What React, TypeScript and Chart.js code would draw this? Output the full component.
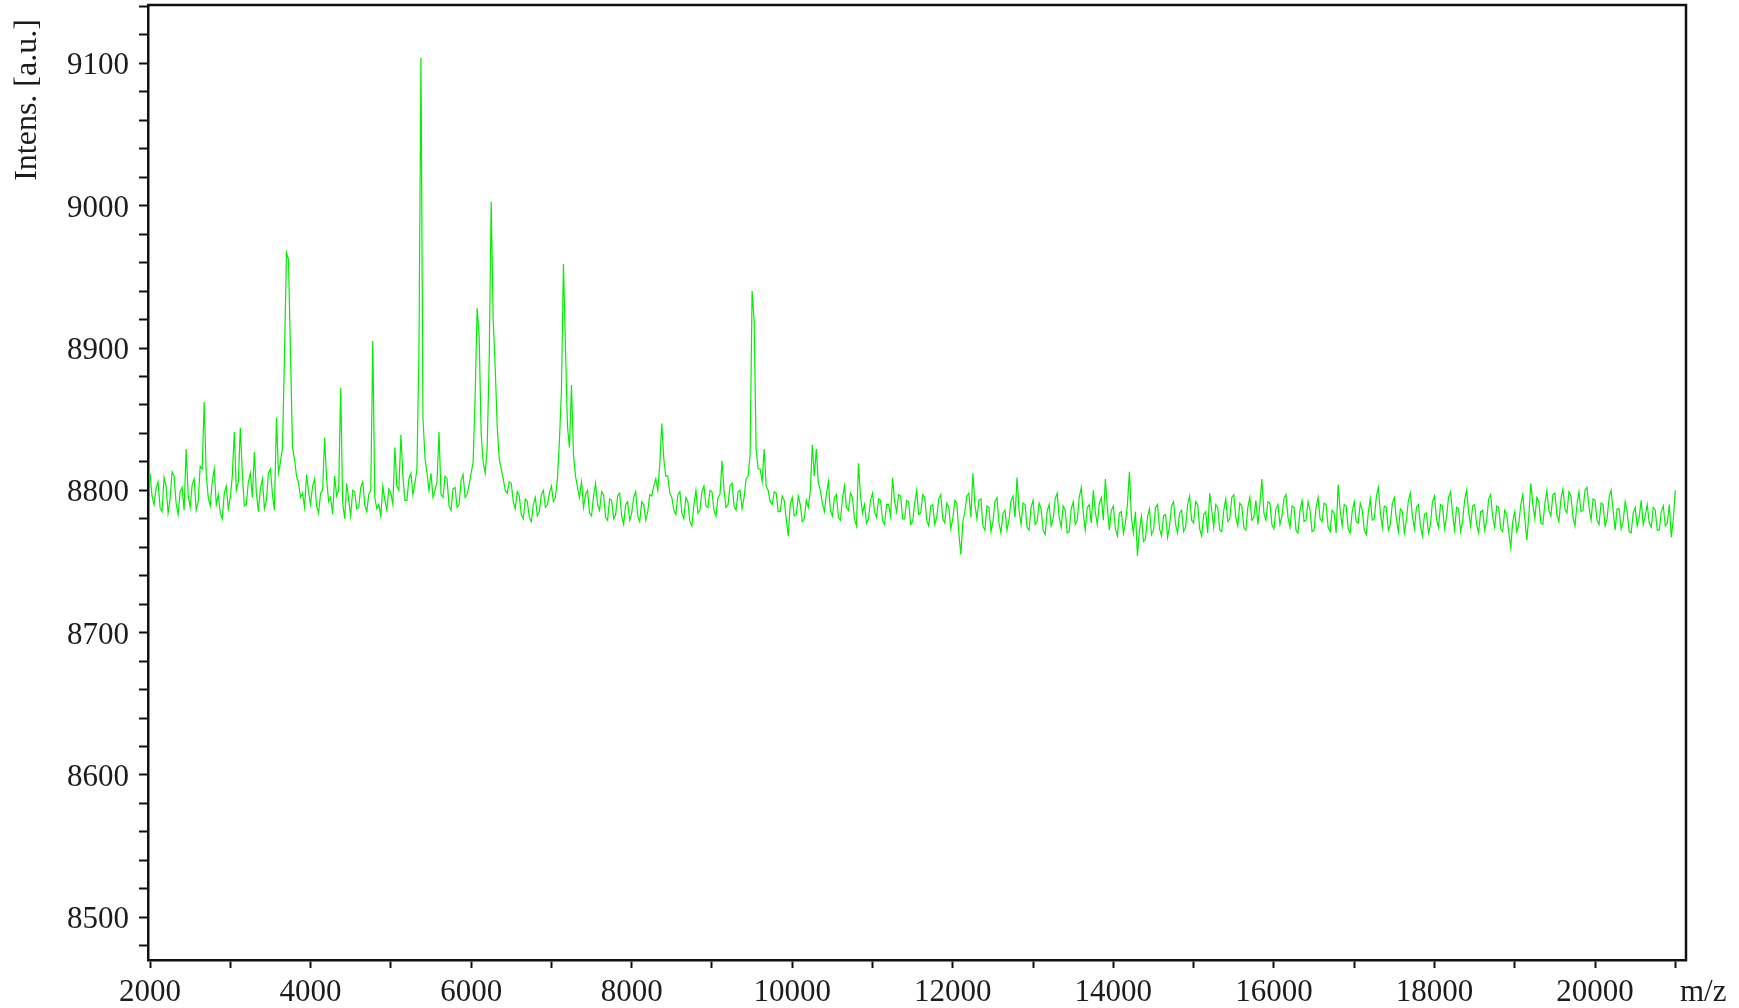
import React, { useEffect, useRef } from "react";
import { Chart, registerables } from "chart.js";

Chart.register(...registerables);

// Sampling grid of the spectrum (m/z), one value every MZ_STEP
const MZ_START = 2000;
const MZ_STEP = 25;

// Intensities, one per grid step (2000 .. 21000)
const INTENSITY: number[] = [
  // 2000 - 2975
  8812, 8796, 8790, 8801, 8806, 8788, 8785, 8809, 8803, 8784, 8794, 8813, 8810, 8791, 8783, 8799, 8802, 8786, 8829, 8797,
  8788, 8804, 8808, 8786, 8792, 8817, 8815, 8862, 8812, 8795, 8789, 8806, 8815, 8790, 8797, 8784, 8780, 8798, 8803, 8787,
  // 3000 - 3975
  8795, 8810, 8841, 8800, 8806, 8844, 8812, 8789, 8790, 8806, 8812, 8795, 8827, 8798, 8785, 8801, 8808, 8787, 8793, 8812,
  8815, 8797, 8786, 8851, 8812, 8820, 8830, 8895, 8967, 8962, 8896, 8830, 8822, 8810, 8805, 8795, 8798, 8788, 8811, 8799,
  // 4000 - 4975
  8790, 8803, 8808, 8789, 8784, 8798, 8800, 8837, 8808, 8792, 8795, 8783, 8810, 8796, 8800, 8872, 8791, 8780, 8805, 8793,
  8782, 8800, 8799, 8787, 8788, 8802, 8806, 8790, 8785, 8797, 8800, 8905, 8795, 8787, 8790, 8782, 8803, 8793, 8786, 8801,
  // 5000 - 5975
  8798, 8790, 8830, 8803, 8800, 8839, 8810, 8793, 8793, 8808, 8812, 8797, 8805, 8815, 8897, 9104, 8851, 8823, 8812, 8800,
  8812, 8795, 8800, 8806, 8841, 8797, 8795, 8810, 8808, 8789, 8786, 8801, 8802, 8788, 8790, 8807, 8811, 8795, 8797, 8804,
  // 6000 - 6975
  8812, 8820, 8866, 8928, 8908, 8840, 8820, 8812, 8830, 8891, 9003, 8920, 8886, 8845, 8822, 8815, 8808, 8800, 8798, 8806,
  8805, 8792, 8787, 8799, 8796, 8783, 8780, 8794, 8792, 8781, 8778, 8790, 8795, 8782, 8785, 8797, 8800, 8788, 8790, 8798,
  // 7000 - 7975
  8803, 8792, 8795, 8808, 8835, 8870, 8959, 8900, 8845, 8830, 8874, 8825, 8810, 8802, 8795, 8806, 8788, 8797, 8800, 8784,
  8782, 8796, 8805, 8790, 8786, 8799, 8797, 8781, 8779, 8794, 8793, 8780, 8783, 8796, 8798, 8782, 8776, 8790, 8792, 8779,
  // 8000 - 8975
  8784, 8795, 8799, 8782, 8778, 8792, 8790, 8779, 8785, 8797, 8796, 8803, 8808, 8800, 8818, 8847, 8822, 8810, 8810, 8798,
  8795, 8786, 8783, 8797, 8799, 8784, 8780, 8795, 8792, 8778, 8775, 8790, 8800, 8784, 8786, 8799, 8803, 8789, 8788, 8800,
  // 9000 - 9975
  8799, 8786, 8782, 8795, 8797, 8821, 8800, 8788, 8790, 8803, 8805, 8789, 8786, 8799, 8800, 8787, 8795, 8808, 8810, 8825,
  8940, 8919, 8829, 8815, 8815, 8806, 8829, 8803, 8800, 8792, 8790, 8799, 8798, 8785, 8785, 8796, 8793, 8780, 8768, 8790,
  // 10000 - 10975
  8795, 8782, 8783, 8796, 8790, 8778, 8780, 8793, 8788, 8800, 8832, 8810, 8829, 8805, 8800, 8791, 8785, 8797, 8806, 8786,
  8782, 8795, 8797, 8781, 8779, 8794, 8803, 8788, 8786, 8798, 8795, 8780, 8775, 8819, 8796, 8784, 8790, 8777, 8780, 8793,
  // 11000 - 11975
  8798, 8785, 8781, 8794, 8793, 8779, 8776, 8790, 8790, 8782, 8809, 8792, 8785, 8797, 8796, 8780, 8780, 8793, 8792, 8776,
  8778, 8791, 8800, 8783, 8784, 8797, 8795, 8779, 8775, 8789, 8790, 8776, 8781, 8794, 8797, 8780, 8777, 8791, 8788, 8773,
  // 12000 - 12975
  8780, 8793, 8791, 8770, 8755, 8778, 8785, 8796, 8798, 8781, 8812, 8790, 8780, 8793, 8794, 8775, 8772, 8789, 8788, 8771,
  8778, 8792, 8795, 8777, 8770, 8784, 8786, 8772, 8779, 8793, 8796, 8781, 8809, 8786, 8776, 8791, 8790, 8774, 8772, 8788,
  // 13000 - 13975
  8793, 8776, 8778, 8791, 8787, 8772, 8769, 8785, 8790, 8775, 8780, 8794, 8798, 8781, 8774, 8789, 8786, 8770, 8771, 8787,
  8792, 8776, 8779, 8795, 8802, 8784, 8772, 8788, 8790, 8777, 8800, 8785, 8776, 8791, 8795, 8779, 8808, 8788, 8772, 8786,
  // 14000 - 14975
  8789, 8773, 8768, 8784, 8785, 8770, 8777, 8790, 8813, 8781, 8770, 8785, 8754, 8772, 8782, 8764, 8766, 8781, 8787, 8769,
  8772, 8788, 8790, 8773, 8768, 8782, 8783, 8767, 8775, 8789, 8792, 8776, 8770, 8784, 8786, 8771, 8774, 8790, 8796, 8779,
  // 15000 - 15975
  8777, 8792, 8790, 8773, 8768, 8783, 8785, 8770, 8798, 8786, 8774, 8790, 8788, 8772, 8771, 8786, 8794, 8778, 8780, 8795,
  8797, 8781, 8775, 8791, 8789, 8774, 8772, 8788, 8795, 8779, 8781, 8793, 8776, 8790, 8808, 8784, 8779, 8792, 8791, 8776,
  // 16000 - 16975
  8773, 8787, 8790, 8776, 8782, 8794, 8797, 8781, 8774, 8789, 8788, 8772, 8770, 8786, 8793, 8778, 8779, 8792, 8786, 8771,
  8772, 8788, 8795, 8780, 8778, 8791, 8790, 8774, 8771, 8786, 8784, 8770, 8804, 8786, 8775, 8790, 8789, 8773, 8770, 8785,
  // 17000 - 17975
  8792, 8778, 8777, 8791, 8786, 8772, 8769, 8784, 8794, 8779, 8780, 8795, 8802, 8785, 8774, 8789, 8788, 8772, 8776, 8791,
  8795, 8780, 8771, 8787, 8785, 8770, 8779, 8793, 8798, 8782, 8773, 8788, 8790, 8775, 8768, 8783, 8784, 8770, 8776, 8792,
  // 18000 - 18975
  8796, 8780, 8774, 8790, 8789, 8773, 8781, 8795, 8799, 8784, 8772, 8788, 8787, 8771, 8778, 8793, 8800, 8785, 8775, 8789,
  8790, 8776, 8770, 8785, 8786, 8772, 8779, 8794, 8797, 8781, 8774, 8789, 8788, 8773, 8771, 8786, 8783, 8770, 8760, 8778,
  // 19000 - 19975
  8785, 8771, 8776, 8790, 8797, 8780, 8765, 8782, 8805, 8790, 8780, 8795, 8792, 8777, 8776, 8791, 8800, 8786, 8782, 8797,
  8798, 8783, 8778, 8794, 8801, 8787, 8784, 8799, 8796, 8781, 8775, 8790, 8799, 8785, 8786, 8800, 8802, 8788, 8779, 8794,
  // 20000 - 21000
  8793, 8779, 8776, 8791, 8790, 8775, 8780, 8795, 8800, 8786, 8772, 8787, 8787, 8773, 8778, 8792, 8785, 8771, 8770, 8784,
  8788, 8775, 8781, 8793, 8776, 8782, 8790, 8777, 8774, 8788, 8786, 8772, 8772, 8785, 8789, 8775, 8777, 8790, 8767, 8780,
  8800,
];

// Axis ranges and tick definitions
const X_MIN = 1975;
const X_MAX = 21133;
const X_TICKS = [
  2000, 3000, 4000, 5000, 6000, 7000, 8000, 9000, 10000, 11000,
  12000, 13000, 14000, 15000, 16000, 17000, 18000, 19000, 20000, 21000,
];
const X_LABEL_EVERY = 2000;
const Y_MIN = 8470;
const Y_MAX = 9141;
const Y_TICKS = [
  8480, 8500, 8520, 8540, 8560, 8580, 8600, 8620, 8640, 8660, 8680, 8700,
  8720, 8740, 8760, 8780, 8800, 8820, 8840, 8860, 8880, 8900, 8920, 8940,
  8960, 8980, 9000, 9020, 9040, 9060, 9080, 9100, 9120, 9140,
];
const Y_LABEL_EVERY = 100;
const X_TITLE = "m/z";
const Y_TITLE = "Intens. [a.u.]";

const SERIF = '"Liberation Serif", "Times New Roman", serif';
const LINE_COLOR = "#00f000";
const AXIS_COLOR = "#111111";
const TEXT_COLOR = "#1c1c1c";

const framePlugin = {
  id: "frameAndLabels",
  afterDraw(chart: any) {
    const { ctx, chartArea } = chart;
    const { left, right, top, bottom } = chartArea;
    const xs = chart.scales.x;
    const ys = chart.scales.y;
    ctx.save();
    ctx.strokeStyle = AXIS_COLOR;
    ctx.lineWidth = 2.5;
    ctx.beginPath();
    ctx.moveTo(left - 1, top);
    ctx.lineTo(right, top);
    ctx.lineTo(right, bottom + 1);
    ctx.stroke();

    ctx.fillStyle = TEXT_COLOR;
    ctx.font = `31px ${SERIF}`;

    // y tick labels
    ctx.textAlign = "right";
    ctx.textBaseline = "middle";
    for (const t of ys.ticks) {
      const v = Math.round(t.value);
      if (v % Y_LABEL_EVERY === 0) {
        ctx.fillText(String(v), left - 19, ys.getPixelForValue(v) + 3);
      }
    }

    // x tick labels
    ctx.textAlign = "center";
    ctx.textBaseline = "alphabetic";
    for (const t of xs.ticks) {
      const v = Math.round(t.value);
      if (v % X_LABEL_EVERY === 0) {
        ctx.fillText(String(v), xs.getPixelForValue(v), bottom + 41);
      }
    }

    // axis titles
    ctx.textAlign = "left";
    ctx.fillText(X_TITLE, right - 6, bottom + 41);

    ctx.font = `32px ${SERIF}`;
    ctx.translate(left - 112, top + 95);
    ctx.rotate(-Math.PI / 2);
    ctx.textAlign = "center";
    ctx.fillText(Y_TITLE, 0, 0);
    ctx.restore();
  },
};

export default function App() {
  const canvasRef = useRef<HTMLCanvasElement | null>(null);

  useEffect(() => {
    document.body.style.margin = "0";
    document.body.style.overflow = "hidden";
    const canvas = canvasRef.current;
    if (!canvas) return;

    const points = INTENSITY.map((y, i) => ({ x: MZ_START + i * MZ_STEP, y }));

    const chart = new Chart(canvas, {
      type: "line",
      data: {
        datasets: [
          {
            data: points,
            borderColor: LINE_COLOR,
            borderWidth: 1.2,
            pointRadius: 0,
            tension: 0,
            fill: false,
          },
        ],
      },
      options: {
        responsive: false,
        animation: false,
        devicePixelRatio: 1,
        layout: { padding: { left: 0, top: 5, right: 53, bottom: 0 } },
        plugins: {
          legend: { display: false },
          tooltip: { enabled: false },
          title: { display: false },
        },
        scales: {
          x: {
            type: "linear",
            min: X_MIN,
            max: X_MAX,
            border: { color: AXIS_COLOR, width: 2.5 },
            grid: {
              drawOnChartArea: false,
              drawTicks: true,
              tickLength: 8,
              tickWidth: 2,
              tickColor: AXIS_COLOR,
              color: AXIS_COLOR,
            },
            ticks: {
              display: false,
              autoSkip: false,
              maxRotation: 0,
              minRotation: 0,
            },
            afterBuildTicks: (scale: any) => {
              scale.ticks = X_TICKS.map((value) => ({ value }));
            },
            afterFit: (scale: any) => {
              scale.height = 48;
            },
          },
          y: {
            type: "linear",
            min: Y_MIN,
            max: Y_MAX,
            border: { color: AXIS_COLOR, width: 2.5 },
            grid: {
              drawOnChartArea: false,
              drawTicks: true,
              tickLength: 9,
              tickWidth: 2,
              tickColor: AXIS_COLOR,
              color: AXIS_COLOR,
            },
            ticks: {
              display: false,
              autoSkip: false,
            },
            afterBuildTicks: (scale: any) => {
              scale.ticks = Y_TICKS.map((value) => ({ value }));
            },
            afterFit: (scale: any) => {
              scale.width = 148;
            },
          },
        },
      },
      plugins: [framePlugin],
    });

    return () => chart.destroy();
  }, []);

  return (
    <canvas
      ref={canvasRef}
      width={1739}
      height={1008}
      style={{ display: "block", width: 1739, height: 1008 }}
    />
  );
}
